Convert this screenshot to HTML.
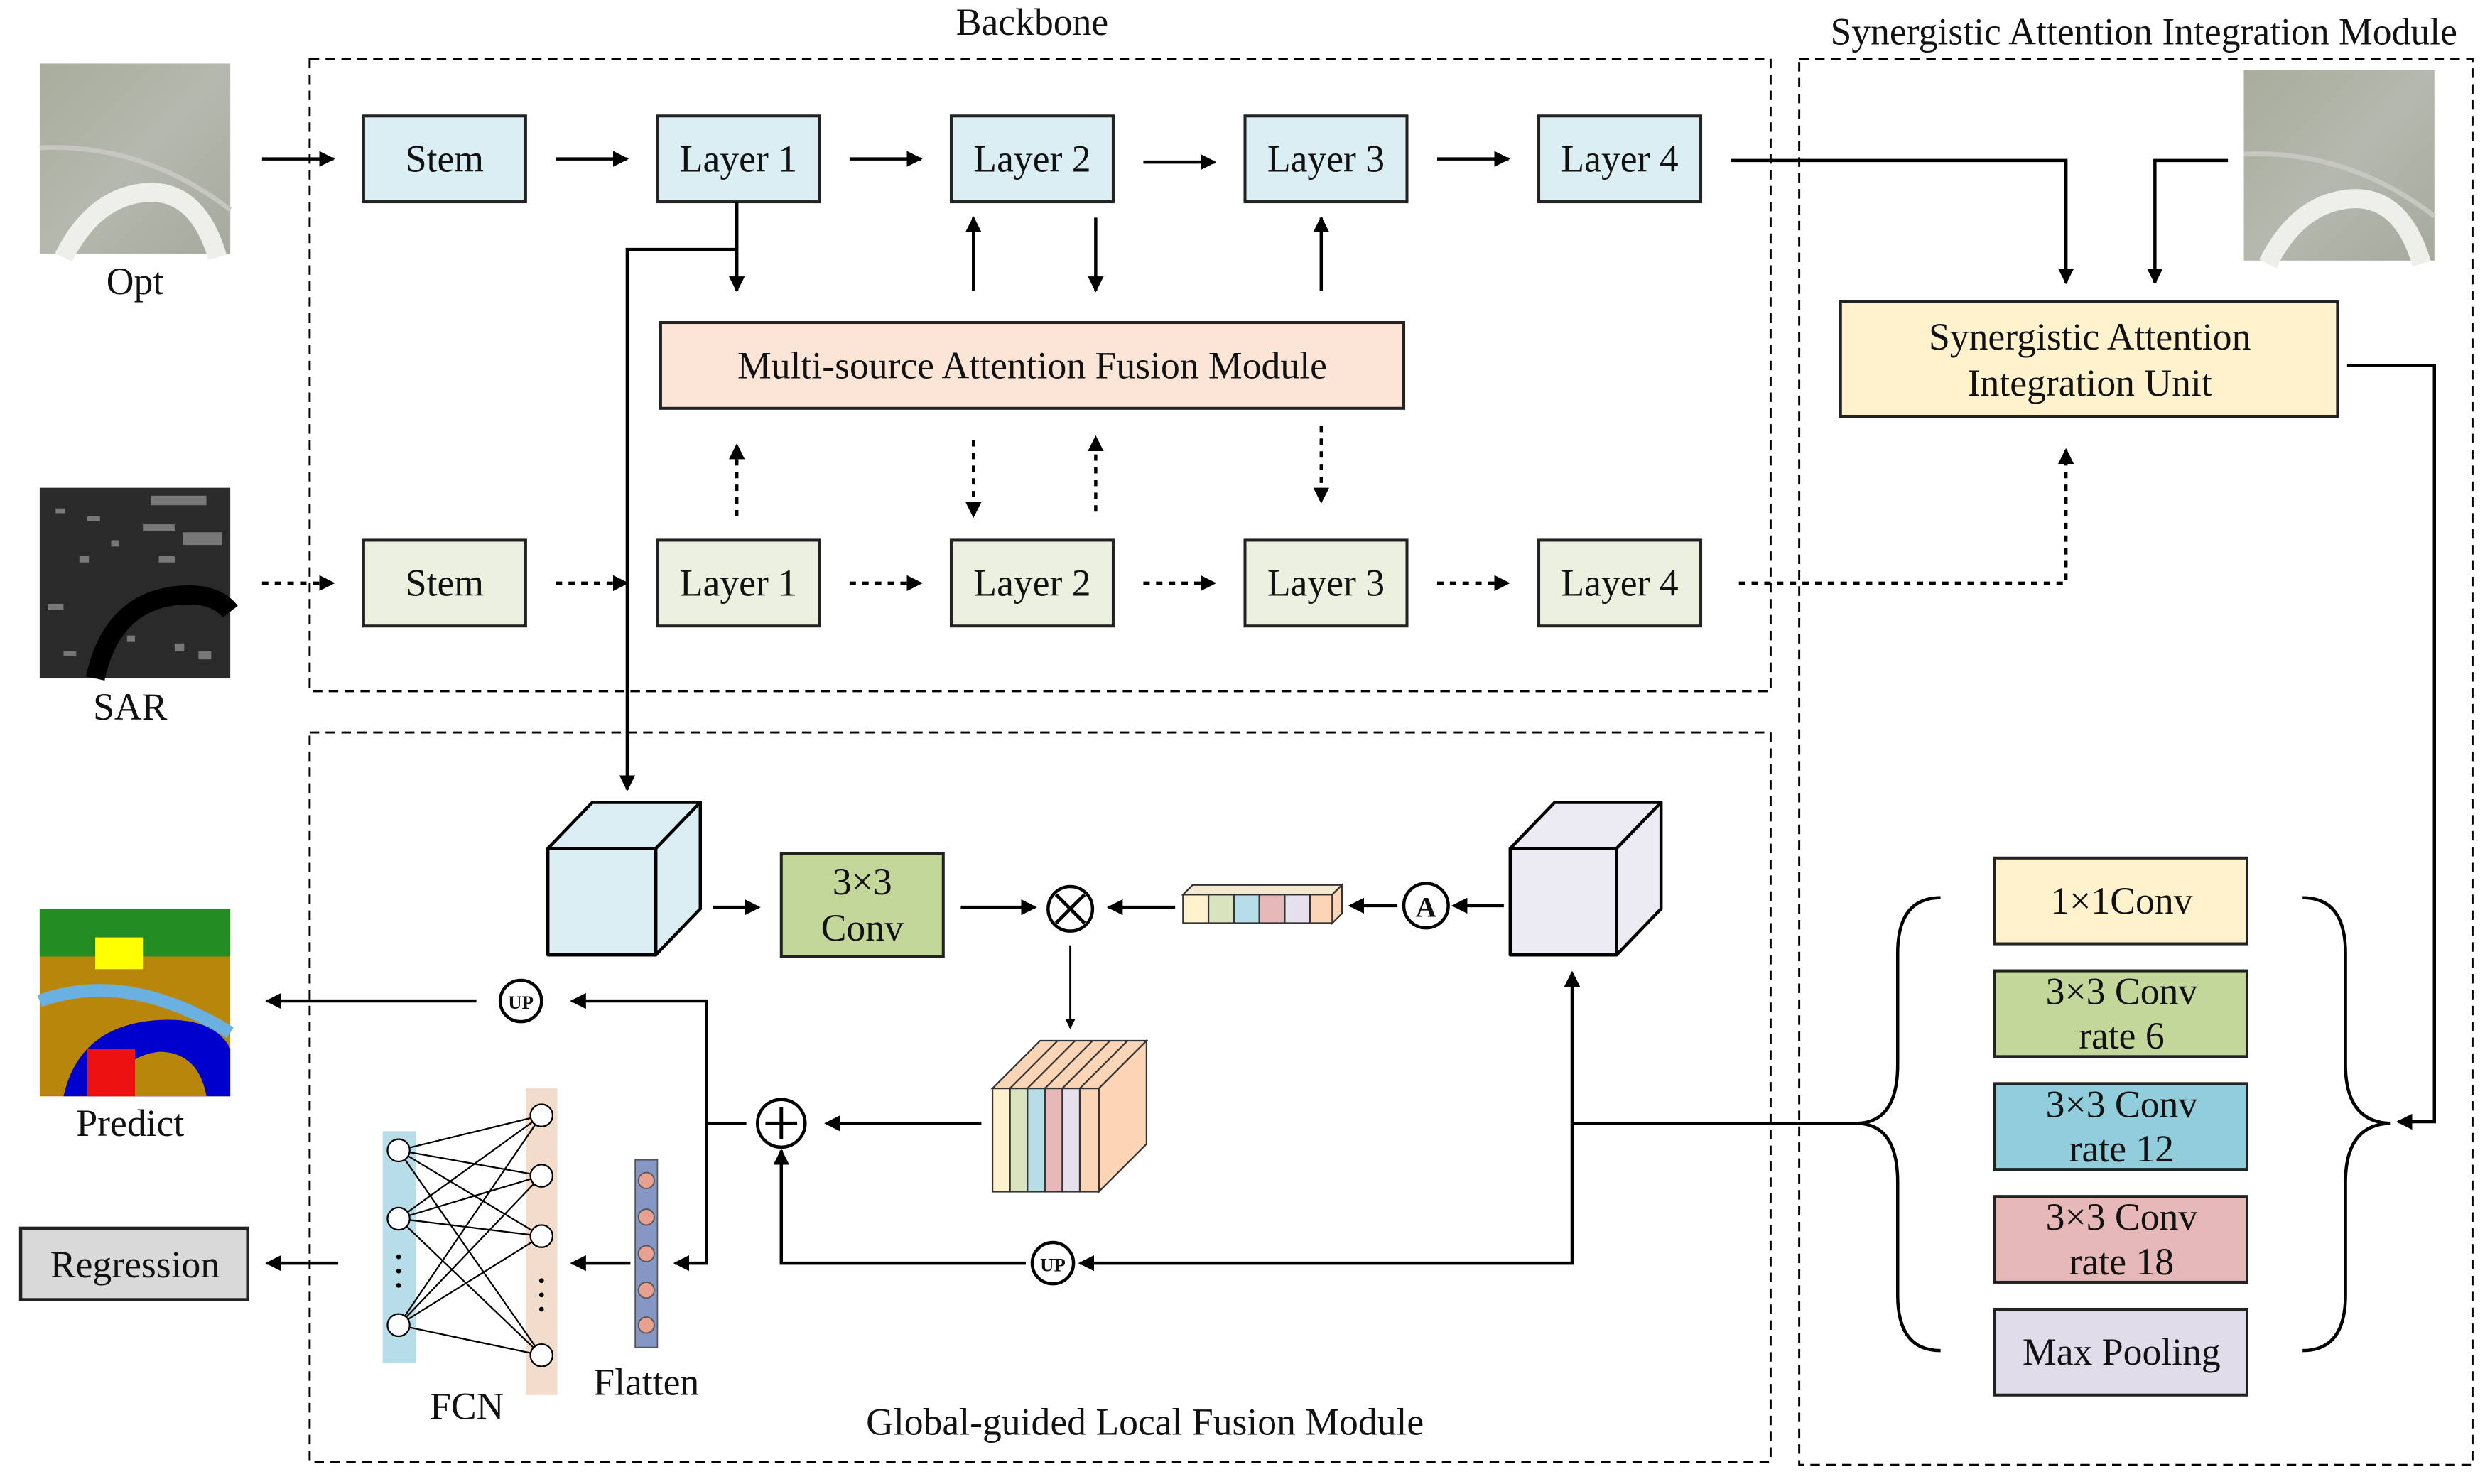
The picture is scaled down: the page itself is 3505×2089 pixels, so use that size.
<!DOCTYPE html>
<html><head><meta charset="utf-8"><style>
html,body{margin:0;padding:0;background:#fff;}
svg{display:block;}
text{font-family:"Liberation Serif",serif;fill:#111;}
</style></head><body>
<svg width="3505" height="2089" viewBox="0 0 1568 934" preserveAspectRatio="none" xmlns="http://www.w3.org/2000/svg">
<defs>
<marker id="a" viewBox="0 0 10 10" refX="9" refY="5" markerWidth="5" markerHeight="5" orient="auto"><path d="M0,0 L10,5 L0,10 z" fill="#000"/></marker>
<linearGradient id="opt" x1="0" y1="0" x2="1" y2="1"><stop offset="0" stop-color="#a9ad9c"/><stop offset="0.5" stop-color="#b4b8ae"/><stop offset="1" stop-color="#a6aa9e"/></linearGradient>
</defs>
<g fill="none" stroke="#000" stroke-width="1.3" stroke-dasharray="6,4">
<rect x="195" y="37" width="920" height="398"/>
<rect x="1133" y="37" width="424" height="885"/>
<rect x="195" y="461" width="920" height="459"/>
</g>
<g font-size="24">
<text x="650" y="22" text-anchor="middle">Backbone</text>
<text x="1350" y="28" text-anchor="middle">Synergistic Attention Integration Module</text>
</g>

<!-- Opt image -->
<rect x="25" y="40" width="120" height="120" fill="url(#opt)"/>
<path d="M25,93 Q90,90 145,132" stroke="#c8c6c0" stroke-width="3" fill="none"/>
<path d="M40,162 Q60,122 95,121 Q125,121 137,162" stroke="#eeeeea" stroke-width="12" fill="none"/>
<!-- Opt image 2 -->
<rect x="1413" y="44" width="120" height="120" fill="url(#opt)"/>
<path d="M1413,97 Q1478,94 1533,136" stroke="#c8c6c0" stroke-width="3" fill="none"/>
<path d="M1428,166 Q1448,126 1483,125 Q1513,125 1525,166" stroke="#eeeeea" stroke-width="12" fill="none"/>
<!-- SAR image -->
<rect x="25" y="307" width="120" height="120" fill="#2a2a2a"/>
<g fill="#999" opacity="0.7">
<rect x="35" y="320" width="6" height="3"/><rect x="90" y="330" width="20" height="4"/><rect x="95" y="312" width="35" height="6"/><rect x="50" y="350" width="6" height="4"/><rect x="115" y="335" width="25" height="8"/><rect x="80" y="400" width="5" height="4"/><rect x="40" y="410" width="8" height="3"/><rect x="110" y="405" width="6" height="5"/><rect x="70" y="340" width="5" height="4"/><rect x="30" y="380" width="10" height="4"/><rect x="125" y="410" width="8" height="5"/><rect x="55" y="325" width="8" height="3"/><rect x="100" y="350" width="10" height="4"/>
</g>
<path d="M60,427 Q70,380 110,375 Q135,372 145,385" stroke="#000" stroke-width="12" fill="none"/>
<!-- Predict image -->
<rect x="25" y="572" width="120" height="118" fill="#b8860b"/>
<rect x="25" y="572" width="120" height="30" fill="#228b22"/>
<rect x="60" y="590" width="30" height="20" fill="#ffff00"/>
<path d="M25,630 Q80,610 145,650" stroke="#6ab0e0" stroke-width="8" fill="none"/>
<path d="M40,690 Q50,645 100,642 Q135,640 145,660 L145,690 Z" fill="#0000cc"/>
<path d="M70,690 Q75,665 100,662 Q125,662 130,690 Z" fill="#b8860b"/>
<rect x="55" y="660" width="30" height="30" fill="#ee1111"/>

<g font-size="24" text-anchor="middle">
<text x="85" y="185">Opt</text>
<text x="82" y="453">SAR</text>
<text x="82" y="715">Predict</text>
</g>

<!-- top row boxes -->
<g stroke="#222" stroke-width="1.8" fill="#daeef3">
<rect x="229" y="73" width="102" height="54"/><rect x="414" y="73" width="102" height="54"/><rect x="599" y="73" width="102" height="54"/><rect x="784" y="73" width="102" height="54"/><rect x="969" y="73" width="102" height="54"/>
</g>
<g stroke="#222" stroke-width="1.8" fill="#ebf1de">
<rect x="229" y="340" width="102" height="54"/><rect x="414" y="340" width="102" height="54"/><rect x="599" y="340" width="102" height="54"/><rect x="784" y="340" width="102" height="54"/><rect x="969" y="340" width="102" height="54"/>
</g>
<g font-size="24" text-anchor="middle">
<text x="280" y="108">Stem</text><text x="465" y="108">Layer 1</text><text x="650" y="108">Layer 2</text><text x="835" y="108">Layer 3</text><text x="1020" y="108">Layer 4</text>
<text x="280" y="375">Stem</text><text x="465" y="375">Layer 1</text><text x="650" y="375">Layer 2</text><text x="835" y="375">Layer 3</text><text x="1020" y="375">Layer 4</text>
</g>
<rect x="416" y="203" width="468" height="54" fill="#fbe5d6" stroke="#222" stroke-width="1.8"/>
<text x="650" y="238" font-size="24" text-anchor="middle">Multi-source Attention Fusion Module</text>

<g stroke="#000" stroke-width="2" fill="none" marker-end="url(#a)">
<line x1="165" y1="100" x2="210" y2="100"/><line x1="350" y1="100" x2="395" y2="100"/><line x1="535" y1="100" x2="580" y2="100"/><line x1="720" y1="102" x2="765" y2="102"/><line x1="905" y1="100" x2="950" y2="100"/>
<line x1="464" y1="127" x2="464" y2="183"/><line x1="613" y1="183" x2="613" y2="137"/><line x1="690" y1="137" x2="690" y2="183"/><line x1="832" y1="183" x2="832" y2="137"/>
<polyline points="464,157 395,157 395,497"/>
<polyline points="1090,101 1301,101 1301,178"/>
<polyline points="1403,101 1357,101 1357,178"/>
<polyline points="1478,230 1533,230 1533,706 1510,706"/>
</g>
<g stroke="#000" stroke-width="2" fill="none" stroke-dasharray="4,4" marker-end="url(#a)">
<line x1="165" y1="367" x2="210" y2="367"/><line x1="350" y1="367" x2="395" y2="367"/><line x1="535" y1="367" x2="580" y2="367"/><line x1="720" y1="367" x2="765" y2="367"/><line x1="905" y1="367" x2="950" y2="367"/>
<line x1="464" y1="325" x2="464" y2="280"/><line x1="613" y1="277" x2="613" y2="325"/><line x1="690" y1="322" x2="690" y2="275"/><line x1="832" y1="268" x2="832" y2="316"/>
<polyline points="1095,367 1301,367 1301,283"/>
</g>

<rect x="1159" y="190" width="313" height="72" fill="#fff2cc" stroke="#222" stroke-width="1.8"/>
<text x="1316" y="220" font-size="24" text-anchor="middle">Synergistic Attention</text>
<text x="1316" y="249" font-size="24" text-anchor="middle">Integration Unit</text>

<!-- ASPP -->
<g stroke="#222" stroke-width="1.8">
<rect x="1256" y="540" width="159" height="54" fill="#fff2cc"/>
<rect x="1256" y="611" width="159" height="54" fill="#c4d79b"/>
<rect x="1256" y="682" width="159" height="54" fill="#92cddc"/>
<rect x="1256" y="753" width="159" height="54" fill="#e6b9b8"/>
<rect x="1256" y="824" width="159" height="54" fill="#e0dcea"/>
</g>
<g font-size="24" text-anchor="middle">
<text x="1336" y="575">1×1Conv</text>
<text x="1336" y="632">3×3 Conv</text><text x="1336" y="660">rate 6</text>
<text x="1336" y="703">3×3 Conv</text><text x="1336" y="731">rate 12</text>
<text x="1336" y="774">3×3 Conv</text><text x="1336" y="802">rate 18</text>
<text x="1336" y="859">Max Pooling</text>
</g>
<g stroke="#000" stroke-width="2" fill="none">
<path d="M1222,565 Q1195,565 1195,600 L1195,670 Q1195,706 1170,707 Q1195,708 1195,744 L1195,815 Q1195,850 1222,850"/>
<path d="M1450,565 Q1477,565 1477,600 L1477,670 Q1477,706 1505,707 Q1477,708 1477,744 L1477,815 Q1477,850 1450,850"/>
<line x1="990" y1="707" x2="1170" y2="707"/>
</g>

<!-- cubes -->
<g stroke="#000" stroke-width="2" stroke-linejoin="round">
<rect x="345" y="534" width="68" height="67" fill="#daeef3"/>
<polygon points="345,534 373,505 441,505 413,534" fill="#daeef3"/>
<polygon points="413,534 441,505 441,572 413,601" fill="#daeef3"/>
<rect x="951" y="534" width="67" height="67" fill="#eceaf2"/>
<polygon points="951,534 979,505 1046,505 1018,534" fill="#eceaf2"/>
<polygon points="1018,534 1046,505 1046,572 1018,601" fill="#eceaf2"/>
</g>
<rect x="492" y="537" width="102" height="65" fill="#c4d79b" stroke="#222" stroke-width="1.8"/>
<text x="543" y="563" font-size="24" text-anchor="middle">3×3</text>
<text x="543" y="592" font-size="24" text-anchor="middle">Conv</text>

<!-- color bar -->
<g stroke="#333" stroke-width="1">
<rect x="745" y="563" width="16" height="18" fill="#fff2cc"/><rect x="761" y="563" width="16" height="18" fill="#d7e4bd"/><rect x="777" y="563" width="16" height="18" fill="#b7dde8"/><rect x="793" y="563" width="16" height="18" fill="#e6b9b8"/><rect x="809" y="563" width="16" height="18" fill="#e6e0ec"/><rect x="825" y="563" width="14" height="18" fill="#fbd5b5"/>
<polygon points="745,563 751,557 845,557 839,563" fill="#f5e8d0"/>
<polygon points="839,563 845,557 845,575 839,581" fill="#fbd5b5"/>
</g>
<!-- stacked block -->
<g stroke="#333" stroke-width="1">
<polygon points="625,685 655,655 722,655 692,685" fill="#fbd5b5"/>
<polygon points="692,685 722,655 722,720 692,750" fill="#fbd5b5"/>
<rect x="625" y="685" width="11" height="65" fill="#fff2cc"/><rect x="636" y="685" width="11" height="65" fill="#d7e4bd"/><rect x="647" y="685" width="11" height="65" fill="#b7dde8"/><rect x="658" y="685" width="11" height="65" fill="#e6b9b8"/><rect x="669" y="685" width="11" height="65" fill="#e6e0ec"/><rect x="680" y="685" width="12" height="65" fill="#fbd5b5"/>
<line x1="636" y1="685" x2="666" y2="655"/><line x1="647" y1="685" x2="677" y2="655"/><line x1="658" y1="685" x2="688" y2="655"/><line x1="669" y1="685" x2="699" y2="655"/><line x1="680" y1="685" x2="710" y2="655"/>
</g>

<!-- circles -->
<g stroke="#000" stroke-width="2" fill="#fff">
<circle cx="674" cy="572" r="14"/><circle cx="898" cy="570" r="14"/><circle cx="492" cy="707" r="15"/><circle cx="328" cy="630" r="13"/><circle cx="663" cy="795" r="13"/>
</g>
<g stroke="#000" stroke-width="2.2">
<line x1="665" y1="563" x2="683" y2="581"/><line x1="683" y1="563" x2="665" y2="581"/>
<line x1="482" y1="707" x2="502" y2="707"/><line x1="492" y1="697" x2="492" y2="717"/>
</g>
<text x="898" y="577" font-size="18" font-weight="bold" text-anchor="middle">A</text>
<text x="328" y="635" font-size="12" font-weight="bold" text-anchor="middle">UP</text>
<text x="663" y="800" font-size="12" font-weight="bold" text-anchor="middle">UP</text>

<g stroke="#000" stroke-width="2" fill="none" marker-end="url(#a)">
<line x1="449" y1="571" x2="478" y2="571"/>
<line x1="605" y1="571" x2="652" y2="571"/>
<line x1="740" y1="571" x2="698" y2="571"/>
<line x1="880" y1="570" x2="850" y2="570"/>
<line x1="947" y1="570" x2="915" y2="570"/>
<line x1="674" y1="595" x2="674" y2="647" stroke-width="1.3"/>
<line x1="618" y1="707" x2="520" y2="707"/>
<line x1="990" y1="707" x2="990" y2="612"/>
<polyline points="990,707 990,795 680,795"/>
<polyline points="646,795 492,795 492,724"/>
<polyline points="470,707 445,707 445,630 360,630"/>
<polyline points="445,707 445,795 425,795"/>
<line x1="300" y1="630" x2="168" y2="630"/>
<line x1="397" y1="795" x2="360" y2="795"/>
<line x1="213" y1="795" x2="168" y2="795"/>
</g>

<!-- Regression -->
<rect x="13" y="773" width="143" height="45" fill="#d9d9d9" stroke="#222" stroke-width="2"/>
<text x="85" y="804" font-size="24" text-anchor="middle">Regression</text>

<!-- FCN -->
<rect x="241" y="712" width="21" height="146" fill="#b7dde8"/>
<rect x="331" y="685" width="20" height="193" fill="#f2dccb"/>
<rect x="400" y="730" width="14" height="118" fill="#8497c5" stroke="#555" stroke-width="0.8"/>
<g stroke="#000" stroke-width="1">
<line x1="251" y1="724" x2="341" y2="702"/><line x1="251" y1="724" x2="341" y2="740"/><line x1="251" y1="724" x2="341" y2="778"/><line x1="251" y1="724" x2="341" y2="853"/>
<line x1="251" y1="767" x2="341" y2="702"/><line x1="251" y1="767" x2="341" y2="740"/><line x1="251" y1="767" x2="341" y2="778"/><line x1="251" y1="767" x2="341" y2="853"/>
<line x1="251" y1="834" x2="341" y2="702"/><line x1="251" y1="834" x2="341" y2="740"/><line x1="251" y1="834" x2="341" y2="778"/><line x1="251" y1="834" x2="341" y2="853"/>
</g>
<g stroke="#000" stroke-width="1" fill="#fff">
<circle cx="251" cy="724" r="7"/><circle cx="251" cy="767" r="7"/><circle cx="251" cy="834" r="7"/>
<circle cx="341" cy="702" r="7"/><circle cx="341" cy="740" r="7"/><circle cx="341" cy="778" r="7"/><circle cx="341" cy="853" r="7"/>
</g>
<g fill="#000"><circle cx="251" cy="791" r="1.5"/><circle cx="251" cy="800" r="1.5"/><circle cx="251" cy="809" r="1.5"/>
<circle cx="341" cy="806" r="1.5"/><circle cx="341" cy="815" r="1.5"/><circle cx="341" cy="824" r="1.5"/></g>
<g fill="#e8a090" stroke="#555" stroke-width="0.8">
<circle cx="407" cy="743" r="5"/><circle cx="407" cy="766" r="5"/><circle cx="407" cy="789" r="5"/><circle cx="407" cy="812" r="5"/><circle cx="407" cy="834" r="5"/>
</g>
<g font-size="24" text-anchor="middle">
<text x="294" y="893">FCN</text>
<text x="407" y="878">Flatten</text>
<text x="721" y="903">Global-guided Local Fusion Module</text>
</g>
</svg>
</body></html>
